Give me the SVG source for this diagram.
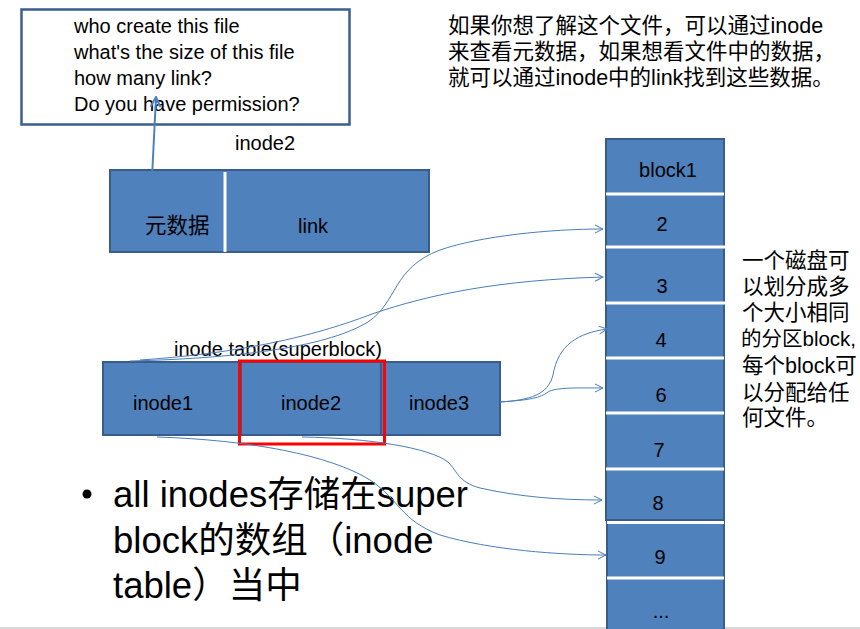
<svg xmlns="http://www.w3.org/2000/svg" width="860" height="629" viewBox="0 0 860 629">
<style>
text{font-family:"Liberation Sans","Noto Sans CJK SC",sans-serif;fill:#000}
.t20{font-size:20px}
.cjk{font-size:21.5px}
.blue{fill:#4f81bd;stroke:#385d8a;stroke-width:2}
.sep{stroke:#fff;stroke-width:3}
.conn{fill:none;stroke:#4a7ebb;stroke-width:1}
.mid{text-anchor:middle}
</style>
<defs>
<marker id="open" viewBox="0 0 10 10" refX="9" refY="5" markerWidth="10" markerHeight="10" markerUnits="userSpaceOnUse" orient="auto">
<path d="M1,1 L9,5 L1,9" fill="none" stroke="#4a7ebb" stroke-width="1"/>
</marker>
<marker id="open2" viewBox="0 0 12 12" refX="11" refY="6" markerWidth="12" markerHeight="12" markerUnits="userSpaceOnUse" orient="auto">
<path d="M1,1 L11,6 L1,11" fill="none" stroke="#4f81bd" stroke-width="2"/>
</marker>
</defs>
<rect width="860" height="629" fill="#fff"/>
<line x1="0" y1="628" x2="860" y2="628" stroke="#c8c8c8" stroke-width="1.5"/>

<g id="metadata-box">
<rect x="21.5" y="9.5" width="328" height="115" fill="#fff" stroke="#3b5f8c" stroke-width="2.5"/>
<text class="t20" x="74" y="33">who create this file</text>
<text class="t20" x="74" y="59">what's the size of this file</text>
<text class="t20" x="74" y="85">how many link?</text>
<text class="t20" x="74" y="111">Do you have permission?</text>
</g>

<g id="top-note">
<text class="cjk" x="448" y="33">如果你想了解这个文件，可以通过inode</text>
<text class="cjk" x="448" y="59">来查看元数据，如果想看文件中的数据，</text>
<text class="cjk" x="448" y="85">就可以通过inode中的link找到这些数据。</text>
</g>

<g id="inode2-detail">
<text class="t20" x="235" y="150">inode2</text>
<rect class="blue" x="110" y="170" width="319" height="82"/>
<line class="sep" x1="225" y1="172" x2="225" y2="252"/>
<text class="cjk" x="145" y="233">元数据</text>
<text class="t20" x="298" y="233">link</text>
</g>

<g id="inode-table">
<text class="t20" x="174" y="356">inode table(superblock)</text>
<g id="inode1">
<rect class="blue" x="103" y="362" width="138" height="73"/>
<text class="t20" x="133" y="410">inode1</text>
</g>
<g id="inode2">
<rect class="blue" x="241" y="362" width="140" height="73"/>
<text class="t20" x="281" y="410">inode2</text>
</g>
<g id="inode3">
<rect class="blue" x="381" y="362" width="119" height="73"/>
<text class="t20" x="409" y="410">inode3</text>
</g>
<rect id="highlight" x="239.5" y="361" width="145" height="83" fill="none" stroke="#ff0000" stroke-width="3"/>
</g>

<g id="blocks">
<g id="block1"><rect class="blue" x="606" y="139" width="118" height="55"/><text class="t20 mid" x="668" y="177">block1</text></g>
<g id="block2"><rect class="blue" x="606" y="194" width="118" height="53"/><text class="t20 mid" x="662" y="231">2</text></g>
<g id="block3"><rect class="blue" x="606" y="247" width="118" height="56"/><text class="t20 mid" x="662" y="293">3</text></g>
<g id="block4"><rect class="blue" x="606" y="303" width="118" height="55"/><text class="t20 mid" x="661" y="347">4</text></g>
<g id="block6"><rect class="blue" x="606" y="358" width="118" height="55"/><text class="t20 mid" x="661" y="402">6</text></g>
<g id="block7"><rect class="blue" x="606" y="413" width="118" height="56"/><text class="t20 mid" x="659" y="457">7</text></g>
<g id="block8"><rect class="blue" x="606" y="469" width="118" height="51"/><text class="t20 mid" x="658" y="510">8</text></g>
<g id="block9"><rect class="blue" x="607" y="522" width="117" height="56"/><text class="t20 mid" x="660" y="564">9</text></g>
<g id="block-more"><rect class="blue" x="607" y="578" width="117" height="52"/><text class="t20 mid" x="661" y="618">...</text></g>
<line class="sep" x1="606" y1="194" x2="724" y2="194"/>
<line class="sep" x1="606" y1="247" x2="725" y2="247"/>
<line class="sep" x1="606" y1="303" x2="725" y2="303"/>
<line class="sep" x1="606" y1="358" x2="724" y2="358"/>
<line class="sep" x1="606" y1="413" x2="724" y2="413"/>
<line class="sep" x1="606" y1="469" x2="724" y2="469"/>
<line class="sep" x1="607" y1="522.5" x2="724" y2="522.5"/>
<line class="sep" x1="607" y1="578" x2="724" y2="578"/>
</g>

<g id="block-note">
<text class="cjk" x="742" y="268">一个磁盘可</text>
<text class="cjk" x="742" y="294">以划分成多</text>
<text class="cjk" x="742" y="320">个大小相同</text>
<text x="741" y="346" style="font-size:20.5px">的分区block,</text>
<text class="cjk" x="742" y="373">每个block可</text>
<text class="cjk" x="742" y="400">以分配给任</text>
<text class="cjk" x="742" y="425">何文件。</text>
</g>

<g id="bullet">
<circle cx="87" cy="494" r="4.5" fill="#000"/>
<text x="113" y="507" style="font-size:36.5px">all inodes存储在super</text>
<text x="113" y="553" style="font-size:36.5px">block的数组（inode</text>
<text x="113" y="598" style="font-size:36.5px">table）当中</text>
</g>

<g id="connectors">
<line x1="152" y1="178" x2="156" y2="97" stroke="#4f81bd" stroke-width="2" marker-end="url(#open2)"/>
<path class="conn" d="M130,361 C250,358 330,345 368,322 C398,302 392,268 440,250 C480,236 550,229 603,229" marker-end="url(#open)"/>
<path class="conn" d="M140,360 C260,352 330,330 372,314 C430,294 500,280 603,277" marker-end="url(#open)"/>
<path class="conn" d="M500,402 C530,400 548,395 553,375 C558,345 578,333 607,329" marker-end="url(#open)"/>
<path class="conn" d="M500,402 C530,400 540,398 548,392 C556,387 580,388 603,388" marker-end="url(#open)"/>
<path class="conn" d="M302,437 C370,438 430,448 448,462 C458,472 458,482 480,488 C520,497 560,500 602,500" marker-end="url(#open)"/>
<path class="conn" d="M157,437 C250,440 330,455 370,480 C400,500 400,520 440,535 C490,550 560,555 606,555" marker-end="url(#open)"/>
</g>
</svg>
